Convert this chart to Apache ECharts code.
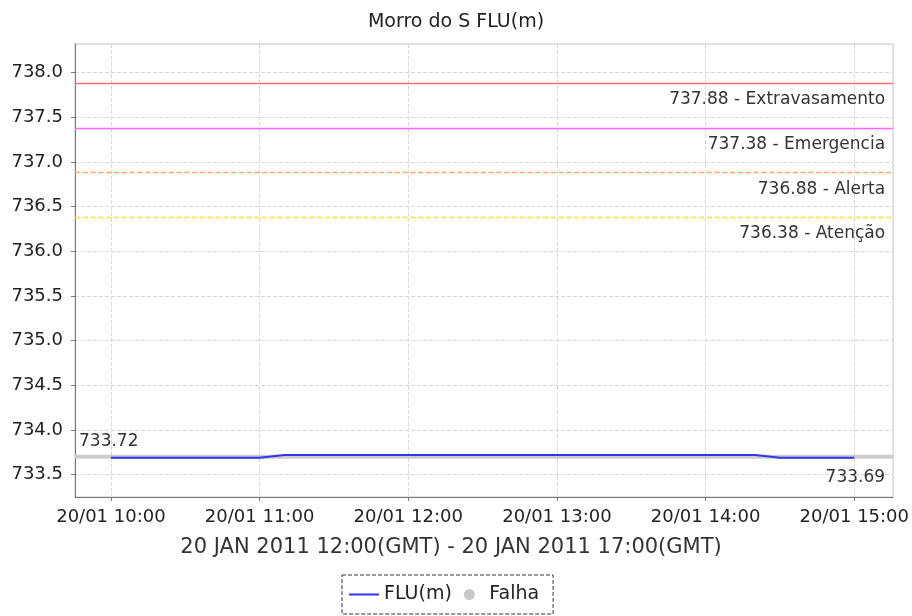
<!DOCTYPE html>
<html>
<head>
<meta charset="utf-8">
<title>Morro do S FLU(m)</title>
<script src="https://cdn.jsdelivr.net/npm/echarts@6/dist/echarts.min.js"></script>
<style>
  html, body { margin: 0; padding: 0; background: #fff; }
  #chart { width: 912px; height: 616px; }
</style>
</head>
<body>
<div id="chart"></div>
<script>
// readings, every 10 minutes (20/01/2011)
var times = ['10:00', '10:10', '10:20', '10:30', '10:40', '10:50', '11:00',
  '11:10', '11:20', '11:30', '11:40', '11:50', '12:00', '12:10', '12:20', '12:30',
  '12:40', '12:50', '13:00', '13:10', '13:20', '13:30', '13:40', '13:50', '14:00',
  '14:10', '14:20', '14:30', '14:40', '14:50', '15:00'];
var fluValues = [733.69, 733.69, 733.69, 733.69, 733.69, 733.69, 733.69,
  733.72, 733.72, 733.72, 733.72, 733.72, 733.72, 733.72, 733.72, 733.72,
  733.72, 733.72, 733.72, 733.72, 733.72, 733.72, 733.72, 733.72, 733.72,
  733.72, 733.72, 733.69, 733.69, 733.69, 733.69];

// "Falha" band drawn across the whole window
var falhaTimes = ['09:45:30', '15:15:40'];
var falhaValues = [733.70, 733.70];

// alarm levels
var levelValues = [737.88, 737.38, 736.88, 736.38];
var levelNames = ['Extravasamento', 'Emergencia', 'Alerta', 'Atenção'];
var levelColors = ['#ff7070', '#ff66ff', '#ffaa66', '#ffdd44'];
var levelTypes = ['solid', 'solid', 'dashed', 'dashed'];

var maxLabel = 733.72;
var lastLabel = 733.69;

function toTime(s) {
  var p = s.split(':');
  return Date.UTC(2011, 0, 20, +p[0], +p[1], +(p[2] || 0));
}

var fluData = times.map(function (t, i) { return [toTime(t), fluValues[i]]; });
var falhaData = falhaTimes.map(function (t, i) { return [toTime(t), falhaValues[i]]; });

var levelLines = levelValues.map(function (v, i) {
  return {
    yAxis: v,
    lineStyle: { color: levelColors[i], type: levelTypes[i], width: 1.3, opacity: 1 },
    label: { formatter: v.toFixed(2) + ' - ' + levelNames[i] }
  };
});
levelLines.push({
  yAxis: maxLabel,
  lineStyle: { color: 'rgba(0,0,0,0)', width: 0 },
  label: { position: 'insideStartTop', formatter: maxLabel.toFixed(2), distance: [4, 5] }
});
levelLines.push({
  yAxis: lastLabel,
  lineStyle: { color: 'rgba(0,0,0,0)', width: 0 },
  label: { position: 'insideEndBottom', formatter: lastLabel.toFixed(2), distance: [8, 11] }
});

var font = 'DejaVu Sans';
var chart = echarts.init(document.getElementById('chart'));
chart.setOption({
  useUTC: true,
  animation: false,
  backgroundColor: '#fff',
  title: {
    text: 'Morro do S FLU(m)',
    left: 'center',
    top: 8,
    textStyle: { fontFamily: font, fontSize: 19, fontWeight: 'normal', color: '#222' },
    padding: [5, 10, 5, 0]
  },
  legend: {
    left: 342,
    top: 575,
    data: [
      { name: 'FLU(m)', itemStyle: { opacity: 0 } },
      { name: 'Falha', icon: 'circle' }
    ],
    itemWidth: 30,
    itemHeight: 11,
    itemGap: 12,
    padding: [10, 14, 10, 6],
    borderColor: '#333',
    borderWidth: 1,
    borderType: 'dashed',
    textStyle: { fontFamily: font, fontSize: 19, color: '#222' }
  },
  grid: {
    left: 75, right: 17, top: 44, bottom: 119,
    show: true, borderColor: '#c8c8c8', borderWidth: 1
  },
  xAxis: {
    type: 'time',
    min: toTime('09:45:30'),
    max: toTime('15:15:40'),
    minInterval: 3600 * 1000,
    maxInterval: 3600 * 1000,
    name: '20 JAN 2011 12:00(GMT) - 20 JAN 2011 17:00(GMT)',
    nameLocation: 'middle',
    nameGap: 40,
    nameTextStyle: { fontFamily: font, fontSize: 21, color: '#333', padding: [0, 66, 0, 0] },
    axisLine: { lineStyle: { color: '#777' } },
    axisTick: { show: true, length: 4, lineStyle: { color: '#777' } },
    axisLabel: {
      formatter: '{dd}/{MM} {HH}:{mm}',
      fontFamily: font, fontSize: 18, color: '#222', margin: 11,
      hideOverlap: false
    },
    splitLine: { show: true, lineStyle: { color: '#d8d8d8', type: 'dashed' } }
  },
  yAxis: {
    type: 'value',
    min: 733.25,
    max: 738.32,
    splitNumber: 10,
    axisLine: { show: true, lineStyle: { color: '#777' } },
    axisTick: { show: true, length: 4, lineStyle: { color: '#777' } },
    axisLabel: {
      showMinLabel: false, showMaxLabel: false,
      formatter: function (v) { return v.toFixed(1); },
      fontFamily: font, fontSize: 18, color: '#222', margin: 12
    },
    splitLine: { show: true, lineStyle: { color: '#d8d8d8', type: 'dashed' } }
  },
  series: [
    {
      name: 'Falha',
      type: 'line',
      data: falhaData,
      symbol: 'none',
      color: '#c8c8c8',
      lineStyle: { color: '#cccccc', width: 4 },
      silent: true,
      z: 1
    },
    {
      name: 'FLU(m)',
      type: 'line',
      data: fluData,
      symbol: 'none',
      color: '#3434f0',
      lineStyle: { color: '#3434f0', width: 2 },
      z: 3,
      markLine: {
        silent: true,
        symbol: 'none',
        animation: false,
        label: {
          position: 'insideEndBottom',
          distance: [8, 8],
          fontFamily: font,
          fontSize: 17,
          color: '#333'
        },
        data: levelLines
      }
    }
  ]
});
</script>
</body>
</html>
